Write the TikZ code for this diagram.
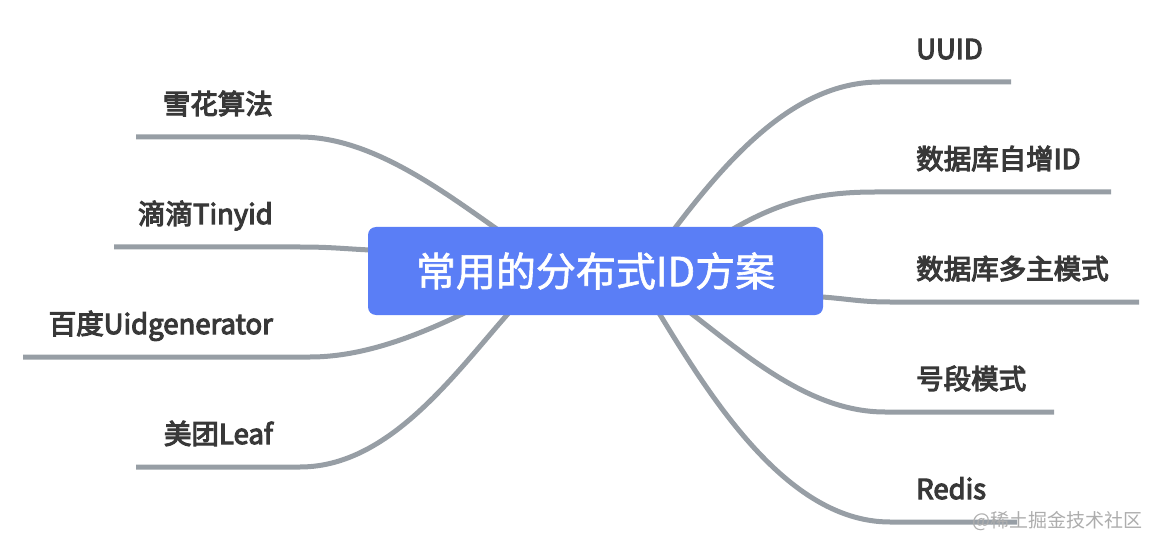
\documentclass[tikz,border=0pt]{standalone}
\usepackage{fontspec}
\setmainfont{Noto Sans CJK SC}
\newfontfamily\leaffont[FakeBold=4]{Noto Sans CJK SC}
\newfontfamily\rootfont[FakeBold=1.5]{Noto Sans CJK SC}
\usepackage{tikz}
\usetikzlibrary{backgrounds}
\usepackage{xcolor}
\definecolor{rootcol}{HTML}{5A7EF6}
\definecolor{linecol}{HTML}{979EA5}
\definecolor{textcol}{HTML}{383838}
\tikzstyle{root}=[fill=rootcol,rounded corners=8,text=white,inner sep=0,
                  minimum width=455,minimum height=88,font=\rootfont\fontsize{40}{44}\selectfont]
\tikzstyle{leaf}=[text=textcol,inner sep=0,font=\leaffont\fontsize{27.5}{30}\selectfont]
\tikzstyle{branch}=[line width=5,linecol,line cap=butt]

\begin{document}
\begin{tikzpicture}[x=1pt,y=-1pt]
  \def\L{273}  % left labels right edge
  \def\R{916}  % right labels left edge
  \def\d{23}   % baseline above underline
  \useasboundingbox (0,0) rectangle (1161,545);

  % ROOT
  \node[root] (root) at (595.5,271) {常用的分布式ID方案};

  % LABELS
  \node[leaf,anchor=base west] (uuid)  at (\R,82-\d)  {UUID};
  \node[leaf,anchor=base west] (auto)  at (\R,192-\d) {数据库自增ID};
  \node[leaf,anchor=base west] (multi) at (\R,302-\d) {数据库多主模式};
  \node[leaf,anchor=base west] (seg)   at (\R,412-\d) {号段模式};
  \node[leaf,anchor=base west] (redis) at (\R,522-\d) {Redis};
  \node[leaf,anchor=base east] (snow)  at (\L,137-\d) {雪花算法};
  \node[leaf,anchor=base east] (tiny)  at (\L,247-\d) {滴滴Tinyid};
  \node[leaf,anchor=base east] (baidu) at (\L,357-\d) {百度Uidgenerator};
  \node[leaf,anchor=base east] (leaf)  at (\L,467-\d) {美团Leaf};

  % UNDERLINE ENDS
  \coordinate (uuid-e)  at (1011,82);
  \coordinate (auto-e)  at (1111,192);
  \coordinate (multi-e) at (1139,302);
  \coordinate (seg-e)   at (1054,412);
  \coordinate (redis-e) at (1017,522);
  \coordinate (snow-e)  at (136,137);
  \coordinate (tiny-e)  at (114,247);
  \coordinate (baidu-e) at (23,357);
  \coordinate (leaf-e)  at (136,467);

  % BRANCHES
  \begin{pgfonlayer}{background}
  \draw[branch] ([shift={(54.5,-9)}]root.center) .. controls (720,165) and (790,82) .. (880,82) -- (uuid-e);
  \draw[branch] ([shift={(119.5,-31)}]root.center) .. controls (770,205) and (810,192) .. (875,192) -- (auto-e);
  \draw[branch] ([shift={(194.5,25)}]root.center) .. controls (840,296) and (850,302) .. (890,302) -- (multi-e);
  \draw[branch] ([shift={(64.5,19)}]root.center) .. controls (730,340) and (800,412) .. (885,412) -- (seg-e);
  \draw[branch] ([shift={(49.5,19)}]root.center) .. controls (700,380) and (780,522) .. (890,522) -- (redis-e);
  \draw[branch] ([shift={(-75.5,-26)}]root.center) .. controls (460,205) and (380,137) .. (300,137) -- (snow-e);
  \draw[branch] ([shift={(-195.5,-20)}]root.center) .. controls (350,250) and (340,247) .. (300,247) -- (tiny-e);
  \draw[branch] ([shift={(-100.5,27)}]root.center) .. controls (450,320) and (380,357) .. (310,357) -- (baidu-e);
  \draw[branch] ([shift={(-65.5,19)}]root.center) .. controls (470,350) and (400,467) .. (300,467) -- (leaf-e);
  \end{pgfonlayer}

  % WATERMARK
  \node[text=black!32,inner sep=0,anchor=base east,font=\fontsize{19}{22}\selectfont] (mark) at (1143,527) {@稀土掘金技术社区};
\end{tikzpicture}
\end{document}
